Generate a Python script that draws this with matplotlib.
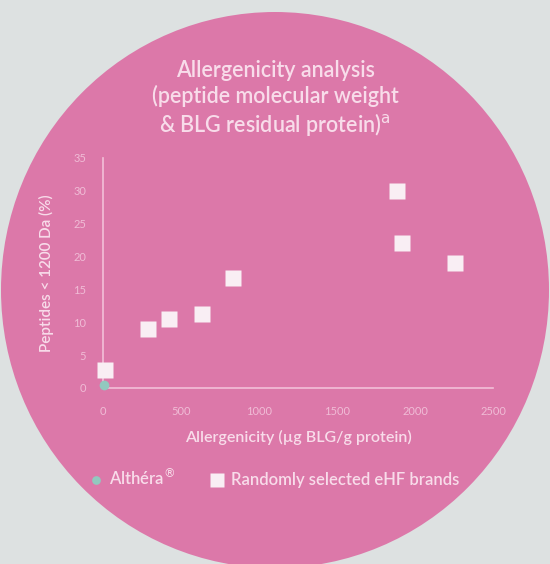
import numpy as np
import matplotlib
matplotlib.use("Agg")
import matplotlib.pyplot as plt
from matplotlib.patches import Ellipse

# data
althera_x = [5]
althera_y = [0.5]
ehf_x = [15, 290, 425, 635, 835, 1885, 1915, 2255]
ehf_y = [2.8, 9.0, 10.5, 11.3, 16.7, 30.0, 22.0, 19.0]

x_ticks = [0, 500, 1000, 1500, 2000, 2500]
y_ticks = [0, 5, 10, 15, 20, 25, 30, 35]

bg = '#dde1e1'
pink = '#dc78a9'
text_col = '#f8dcea'
tick_col = '#f0bcd6'
axis_col = '#f2c0d8'

plt.rcParams['font.family'] = ['Lato', 'DejaVu Sans']

W, H = 550, 564
fig = plt.figure(figsize=(W / 100, H / 100), dpi=100)
fig.patch.set_facecolor(bg)

# pink disc behind everything
disc = Ellipse((275 / W, 1 - 290 / H), 548 / W, 556 / H,
               transform=fig.transFigure, facecolor=pink, edgecolor='none', zorder=-5)
fig.patches.append(disc)

ax = fig.add_axes([103 / W, 1 - 388 / H, 390 / W, 230 / H])
ax.patch.set_alpha(0)
ax.set_zorder(2)

ax.plot(althera_x, althera_y, 'o', ms=7, color='#92c8bf', mec='none',
        clip_on=False, zorder=3, label='Althéra$^{\\circledR}$')
ax.plot(ehf_x, ehf_y, 's', ms=11.5, color='#f9eef4', mec='none',
        clip_on=False, zorder=4, label='Randomly selected eHF brands')

ax.set_xlim(0, 2500)
ax.set_ylim(0, 35)
ax.set_xticks(x_ticks)
ax.set_yticks(y_ticks)
ax.tick_params(length=0, colors=tick_col, labelsize=8)
ax.tick_params(axis='x', pad=13)
ax.tick_params(axis='y', pad=12)

for s in ['top', 'right']:
    ax.spines[s].set_visible(False)
for s in ['left', 'bottom']:
    ax.spines[s].set_color(axis_col)
    ax.spines[s].set_linewidth(1.2)

ax.set_xlabel('Allergenicity (µg BLG/g protein)', color=text_col, fontsize=11.5,
              fontweight='semibold', labelpad=9)
ax.set_ylabel('Peptides < 1200 Da (%)', color=text_col, fontsize=11,
              fontweight='semibold', labelpad=14)

fig.text(0.5, 1 - 60 / H,
         'Allergenicity analysis\n(peptide molecular weight\n& BLG residual protein)$^{\\mathrm{a}}$',
         ha='center', va='top', color=text_col, fontsize=15.5, fontweight='semibold',
         linespacing=1.2)

leg = fig.legend(loc='center', bbox_to_anchor=(0.497, 1 - 478 / H), ncol=2,
                 frameon=False, prop={'size': 12, 'weight': 'semibold'},
                 handletextpad=0.3, columnspacing=2.0,
                 handlelength=1.0, markerscale=0.9)
for t in leg.get_texts():
    t.set_color(text_col)

fig.savefig('out.png', dpi=100, facecolor=fig.get_facecolor())
